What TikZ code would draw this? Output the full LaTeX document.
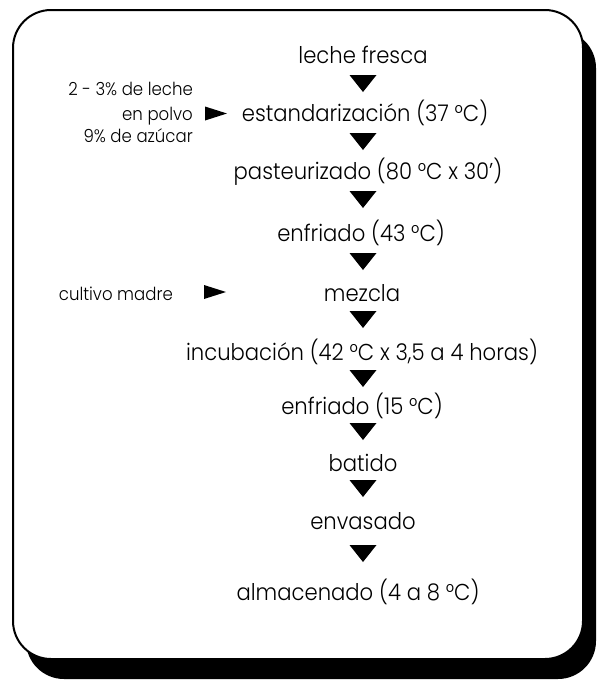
\documentclass[tikz,border=0pt]{standalone}
\usepackage{fontspec}
\IfFontExistsTF{Poppins Light}{\setmainfont{Poppins Light}[FakeStretch=0.92]}{\setmainfont{Poppins}[FakeStretch=0.92]}
\begin{document}
\begin{tikzpicture}[x=1pt,y=-1pt,
  stepnode/.style={anchor=base, font=\fontsize{23}{27}\selectfont, inner sep=0pt},
  sidenode/.style={anchor=base east, font=\fontsize{18}{21}\selectfont, inner sep=0pt},
  downtri/.pic={\fill (-13.5,-8.5) -- (13.5,-8.5) -- (0,8.5) -- cycle;},
  righttri/.pic={\fill (-11,-7) -- (-11,7) -- (11,0) -- cycle;}]
\useasboundingbox (0,0) rectangle (597,681);
\fill[rounded corners=38pt] (26,30) rectangle (596,679);
\draw[line width=2pt, fill=white, rounded corners=38pt] (13,10) rectangle (583,659);
% main column
\node[stepnode] (n1) at (363,63) {leche fresca};
\node[stepnode] (n2) at (365,121) {estandarización (37 °C)};
\node[stepnode] (n3) at (368,179) {pasteurizado (80 °C x 30')};
\node[stepnode] (n4) at (361,241) {enfriado (43 °C)};
\node[stepnode] (n5) at (362,301) {mezcla};
\node[stepnode] (n6) at (362,360) {incubación (42 °C x 3,5 a 4 horas)};
\node[stepnode] (n7) at (362,414) {enfriado (15 °C)};
\node[stepnode] (n8) at (363,471) {batido};
\node[stepnode] (n9) at (363,529) {envasado};
\node[stepnode] (n10) at (358,600) {almacenado (4 a 8 °C)};
% arrows
\pic at (363,83.5) {downtri};
\pic at (363,141.5) {downtri};
\pic at (363,199.5) {downtri};
\pic at (363,261.5) {downtri};
\pic at (363,319.5) {downtri};
\pic at (363,378.5) {downtri};
\pic at (363,431.5) {downtri};
\pic at (363,488.5) {downtri};
\pic at (363,553.5) {downtri};
% side inputs
\node[sidenode] (s1) at (193,95) {2 - 3\% de leche};
\node[sidenode] (s2) at (193,120) {en polvo};
\node[sidenode] (s3) at (193,142) {9\% de azúcar};
\pic at (216,113.5) {righttri};
\node[sidenode] (s4) at (173,300) {cultivo madre};
\pic at (215,292) {righttri};
\end{tikzpicture}
\end{document}
